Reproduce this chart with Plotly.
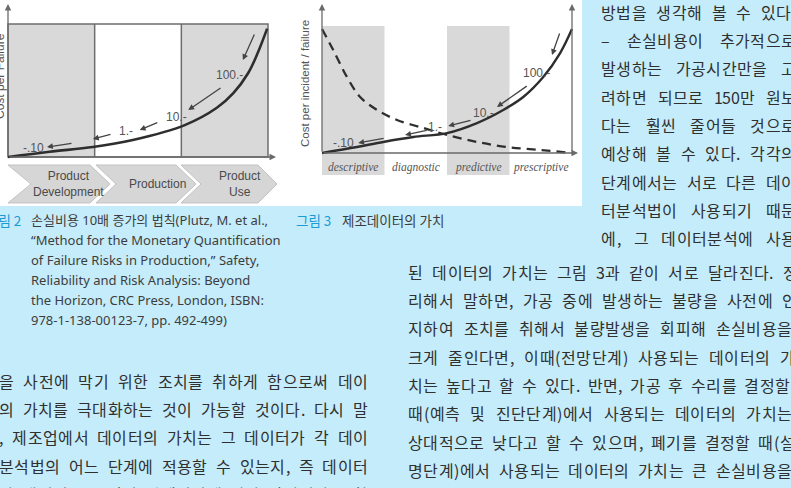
import plotly.graph_objects as go

W, H = 791, 488

# ----------------------------- data -----------------------------
fig2_phases = ["Product<br>Development", "Production", "Product<br>Use"]
fig2_curve_x = [0.0, 0.48, 0.98, 1.44, 2.04, 2.41, 2.60, 2.77, 2.88, 2.99]
fig2_curve_y = [0.0, 0.04, 0.075, 0.128, 0.24, 0.37, 0.48, 0.63, 0.78, 0.965]
cost_labels = ["-.10", "1.-", "10.-", "100.-"]
fig2_label_x = [0.29, 1.36, 1.95, 2.56]
fig2_label_y = [0.068, 0.195, 0.30, 0.617]
fig2_arrow_tail_x = [2.85, 2.47, 1.74, 1.20, 0.75]
fig2_arrow_tail_y = [0.932, 0.526, 0.263, 0.173, 0.105]
fig2_arrow_head_x = [2.71, 2.08, 1.52, 0.98, 0.45]
fig2_arrow_head_y = [0.729, 0.353, 0.203, 0.135, 0.075]

fig3_stages = ["descriptive", "diagnostic", "predictive", "prescriptive"]
fig3_cost_x = [0.0, 0.56, 0.98, 1.46, 2.0, 2.48, 2.9, 3.22, 3.54, 3.81, 4.0]
fig3_cost_y = [0.0, 0.047, 0.087, 0.126, 0.157, 0.236, 0.339, 0.441, 0.598, 0.787, 0.976]
fig3_value_x = [0.0, 0.18, 0.4, 0.61, 0.88, 1.2, 1.62, 2.0, 2.48, 2.96, 3.49, 4.0]
fig3_value_y = [0.976, 0.811, 0.598, 0.441, 0.339, 0.26, 0.197, 0.142, 0.087, 0.047, 0.024, 0.0]
fig3_label_x = [0.34, 1.81, 2.58, 3.44]
fig3_label_y = [0.079, 0.205, 0.315, 0.63]
fig3_arrow_tail_x = [3.81, 3.30, 2.40, 1.70, 1.01]
fig3_arrow_tail_y = [0.953, 0.535, 0.26, 0.181, 0.118]
fig3_arrow_head_x = [3.68, 2.80, 2.02, 1.33, 0.58]
fig3_arrow_head_y = [0.772, 0.362, 0.213, 0.142, 0.079]

fig2_ylabel = "Cost per Failure"
fig3_ylabel = "Cost per incident / failure"

caption2_label = "그림 2"
caption2_lines = [
    "손실비용 10배 증가의 법칙(Plutz, M. et al.,",
    "“Method for the Monetary Quantification",
    "of Failure Risks in Production,” Safety,",
    "Reliability and Risk Analysis: Beyond",
    "the Horizon, CRC Press, London, ISBN:",
    "978-1-138-00123-7, pp. 492-499)",
]
caption3_label = "그림 3"
caption3_text = "제조데이터의 가치"

right_col_lines = [
    "방법을 생각해 볼 수 있다.",
    "– 손실비용이 추가적으로",
    "발생하는 가공시간만을 고",
    "려하면 되므로 150만 원보",
    "다는 훨씬 줄어들 것으로",
    "예상해 볼 수 있다. 각각의",
    "단계에서는 서로 다른 데이",
    "터분석법이 사용되기 때문",
    "에, 그 데이터분석에 사용",
]
left_body_lines = [
    "을 사전에 막기 위한 조치를 취하게 함으로써 데이",
    "의 가치를 극대화하는 것이 가능할 것이다. 다시 말",
    ", 제조업에서 데이터의 가치는 그 데이터가 각 데이",
    "분석법의 어느 단계에 적용할 수 있는지, 즉 데이터",
    "가 생성되는 시점이 언제인지에 따라 달라진다고 할",
]
right_body_lines = [
    "된 데이터의 가치는 그림 3과 같이 서로 달라진다. 정",
    "리해서 말하면, 가공 중에 발생하는 불량을 사전에 인",
    "지하여 조치를 취해서 불량발생을 회피해 손실비용을",
    "크게 줄인다면, 이때(전망단계) 사용되는 데이터의 가",
    "치는 높다고 할 수 있다. 반면, 가공 후 수리를 결정할",
    "때(예측 및 진단단계)에서 사용되는 데이터의 가치는",
    "상대적으로 낮다고 할 수 있으며, 폐기를 결정할 때(설",
    "명단계)에서 사용되는 데이터의 가치는 큰 손실비용을",
    "초래한 데이터라고 할 수 있다.",
]

# ----------------------------- layout helpers -----------------------------
BLUE_BG = "#c5ecfa"
INK = "#303030"
GRAY_PANEL = "#d9d9d9"
CURVE = "#2e2e2e"
LABEL = "#555555"
CJK = "Noto Sans CJK KR"


def X(px):
    return px / W


def Y(py):
    return 1 - py / H


def domain(d0, d1, p0, p1, lo, hi, total, vertical):
    s = (p1 - p0) / (d1 - d0)
    plo = p0 + (lo - d0) * s
    phi = p0 + (hi - d0) * s
    if vertical:
        return [1 - plo / total, 1 - phi / total]
    return [plo / total, phi / total]


def slot(ch, p):
    o = ord(ch)
    if 0xAC00 <= o <= 0xD7A3 or 0x3130 <= o <= 0x318F:
        return p
    if ch.isdigit():
        return 0.55 * p
    if ch in ".,":
        return 0.32 * p
    if ch in "()":
        return 0.4 * p
    if ch == "–":
        return 0.6 * p
    if ch == "-":
        return 0.4 * p
    return 0.55 * p


annotations = []
shapes = []


def set_line(line, L, R, ypx, fs, pitch, color=INK, gap=None):
    """Typeset a justified line: each glyph is centred in its own slot."""
    n_sp = line.count(" ")
    body = sum(slot(c, pitch) for c in line if c != " ")
    if gap is None:
        gap = (R - L - body) / max(1, n_sp)
    x = L
    for c in line:
        if c == " ":
            x += gap
            continue
        s = slot(c, pitch)
        annotations.append(dict(
            text=c, x=X(x + s / 2), y=Y(ypx), xref="paper", yref="paper",
            xanchor="center", yanchor="middle", showarrow=False, borderpad=0,
            font=dict(family=CJK, size=fs, color=color)))
        x += s


# ----------------------------- figure -----------------------------
fig = go.Figure()

fig.add_trace(go.Scatter(x=fig2_curve_x, y=fig2_curve_y, mode="lines",
                         line=dict(color=CURVE, width=2.6, shape="spline"),
                         xaxis="x", yaxis="y", hoverinfo="skip", showlegend=False))
fig.add_trace(go.Scatter(x=fig3_cost_x, y=fig3_cost_y, mode="lines",
                         line=dict(color=CURVE, width=2.4, shape="spline"),
                         xaxis="x2", yaxis="y2", hoverinfo="skip", showlegend=False))
fig.add_trace(go.Scatter(x=fig3_value_x, y=fig3_value_y, mode="lines",
                         line=dict(color=CURVE, width=2.3, shape="spline", dash="9px,6px"),
                         xaxis="x2", yaxis="y2", hoverinfo="skip", showlegend=False))

# white figure area
shapes.append(dict(type="rect", xref="paper", yref="paper", x0=0, x1=X(582), y0=Y(206), y1=1,
                   fillcolor="white", line=dict(width=0), layer="below"))

# Fig 2 panels
for i in (0, 2):
    shapes.append(dict(type="rect", xref="x", yref="y", x0=i, x1=i + 1, y0=0, y1=1,
                       fillcolor=GRAY_PANEL, line=dict(width=0), layer="below"))
shapes.append(dict(type="rect", xref="x", yref="y", x0=0, x1=3, y0=0, y1=1,
                   line=dict(color="#6e6e6e", width=1.5), layer="below"))
for i in (1, 2):
    shapes.append(dict(type="line", xref="x", yref="y", x0=i, x1=i, y0=0, y1=1,
                       line=dict(color="#6e6e6e", width=1.5), layer="below"))

# chevrons under Fig 2
chev = [
    [(8, 165), (90, 165), (110, 184), (90, 203), (8, 203), (31, 184)],
    [(96, 165), (176, 165), (196, 184), (176, 203), (96, 203), (116, 184)],
    [(181, 165), (258, 165), (277, 184), (258, 203), (181, 203), (201, 184)],
]
for pts in chev:
    path = "M " + " L ".join(f"{X(a):.5f},{Y(b):.5f}" for a, b in pts) + " Z"
    shapes.append(dict(type="path", xref="paper", yref="paper", path=path,
                       fillcolor="#d6d6d6", line=dict(color="#c2c2c2", width=1), layer="below"))
chev_centers = [(68, 184), (157, 184), (240, 184)]
for (cx, cy), ph in zip(chev_centers, fig2_phases):
    annotations.append(dict(text=ph, x=X(cx), y=Y(cy), xref="paper", yref="paper",
                            xanchor="center", yanchor="middle",
                            showarrow=False, font=dict(family="Liberation Sans", size=12, color="#4a4a4a")))

# Fig 3 panels (stretch down to the stage labels)
for i in (0, 2):
    shapes.append(dict(type="rect", xref="x2", yref="paper", x0=i, x1=i + 1, y0=Y(175), y1=Y(26),
                       fillcolor=GRAY_PANEL, line=dict(width=0), layer="below"))


def axis_arrow(hx, hy, tx, ty):
    annotations.append(dict(text="", x=X(hx), y=Y(hy), xref="paper", yref="paper",
                            ax=tx - hx, ay=ty - hy, axref="pixel", ayref="pixel",
                            showarrow=True, arrowhead=2, arrowsize=1, arrowwidth=1.3,
                            arrowcolor="#6a6a6a", standoff=0, startstandoff=0))


axis_arrow(8, 4, 8, 157)
axis_arrow(276, 157, 8, 157)
axis_arrow(322, 4, 322, 153)
axis_arrow(578, 153, 322, 153)
axis_arrow(572, 4, 572, 153)

for tx, ty, hx, hy in zip(fig2_arrow_tail_x, fig2_arrow_tail_y, fig2_arrow_head_x, fig2_arrow_head_y):
    annotations.append(dict(text="", x=hx, y=hy, ax=tx, ay=ty, xref="x", yref="y", axref="x", ayref="y",
                            showarrow=True, arrowhead=2, arrowsize=0.9, arrowwidth=1.3, arrowcolor="#444",
                            standoff=0))
for tx, ty, hx, hy in zip(fig3_arrow_tail_x, fig3_arrow_tail_y, fig3_arrow_head_x, fig3_arrow_head_y):
    annotations.append(dict(text="", x=hx, y=hy, ax=tx, ay=ty, xref="x2", yref="y2", axref="x2", ayref="y2",
                            showarrow=True, arrowhead=2, arrowsize=0.9, arrowwidth=1.3, arrowcolor="#444",
                            standoff=0))
for lx, ly, t in zip(fig2_label_x, fig2_label_y, cost_labels):
    annotations.append(dict(text=t, x=lx, y=ly, xref="x", yref="y", showarrow=False,
                            xanchor="center", yanchor="middle",
                            font=dict(family="Liberation Sans", size=12, color=LABEL)))
for lx, ly, t in zip(fig3_label_x, fig3_label_y, cost_labels):
    annotations.append(dict(text=t, x=lx, y=ly, xref="x2", yref="y2", showarrow=False,
                            xanchor="center", yanchor="middle",
                            font=dict(family="Liberation Sans", size=12, color=LABEL)))

for i, st in enumerate(fig3_stages):
    annotations.append(dict(text=st, x=i + 0.5, y=Y(168), xref="x2", yref="paper", showarrow=False,
                            xanchor="center", yanchor="middle",
                            font=dict(family="Liberation Serif", size=11.5, color="#555", style="italic")))

annotations.append(dict(text=fig2_ylabel, x=X(0), y=Y(76), xref="paper", yref="paper", showarrow=False,
                        xanchor="center", yanchor="middle",
                        textangle=-90, font=dict(family="Liberation Sans", size=12, color=LABEL)))
annotations.append(dict(text=fig3_ylabel, x=X(305), y=Y(84), xref="paper", yref="paper", showarrow=False,
                        xanchor="center", yanchor="middle",
                        textangle=-90, font=dict(family="Liberation Sans", size=11.5, color=LABEL)))

# captions
CAP_BLUE = "#1b9ad6"
annotations.append(dict(text=caption2_label, x=X(22), y=Y(220), xref="paper", yref="paper", xanchor="right",
                        yanchor="middle",
                        showarrow=False, borderpad=0, font=dict(family=CJK, size=13.5, color=CAP_BLUE)))
for i, ln in enumerate(caption2_lines):
    annotations.append(dict(text=ln, x=X(30), y=Y(220 + 20 * i), xref="paper", yref="paper", xanchor="left",
                            yanchor="middle", showarrow=False, borderpad=0,
                            font=dict(family="Noto Sans, Noto Sans CJK KR", size=13, color="#3d3d3d")))
annotations.append(dict(text=caption3_label, x=X(295), y=Y(220), xref="paper", yref="paper", xanchor="left",
                        yanchor="middle",
                        showarrow=False, borderpad=0, font=dict(family=CJK, size=13.5, color=CAP_BLUE)))
annotations.append(dict(text=caption3_text, x=X(341), y=Y(220), xref="paper", yref="paper", xanchor="left",
                        yanchor="middle",
                        showarrow=False, borderpad=0, font=dict(family=CJK, size=13.5, color="#3d3d3d")))

# body text
FS, P = 16, 15.3
for ln, yy in zip(right_col_lines, [12, 40, 68, 97, 125, 153, 182, 210, 238]):
    set_line(ln, 601, 796, yy, FS, P)
for ln, yy in zip(left_body_lines, [381, 409, 437, 466, 494]):
    set_line(ln, -1, 368, yy, FS, P)
rb_y = [272, 300, 328, 357, 385, 413, 442, 470, 498]
rb_r = [798, 797, 792, 795, 790, 792, 795, 792, None]
for ln, yy, rr in zip(right_body_lines, rb_y, rb_r):
    if rr is None:
        set_line(ln, 408, 0, yy, FS, P, gap=8)
    else:
        set_line(ln, 408, rr, yy, FS, P)

fig.update_layout(
    width=W, height=H, margin=dict(l=0, r=0, t=0, b=0),
    paper_bgcolor=BLUE_BG, plot_bgcolor="rgba(0,0,0,0)",
    xaxis=dict(domain=domain(0, 3, 8, 268, -0.05, 3.05, W, False), range=[-0.05, 3.05], visible=False, fixedrange=True),
    yaxis=dict(domain=domain(0, 1, 157, 24, -0.03, 1.03, H, True), range=[-0.03, 1.03], visible=False, fixedrange=True),
    xaxis2=dict(domain=domain(0, 4, 322, 572, -0.05, 4.05, W, False), range=[-0.05, 4.05], visible=False,
                anchor="y2", fixedrange=True),
    yaxis2=dict(domain=domain(0, 1, 153, 26, -0.03, 1.03, H, True), range=[-0.03, 1.03], visible=False,
                anchor="x2", fixedrange=True),
    shapes=shapes, annotations=annotations, showlegend=False,
)

fig.write_html("out.html")
